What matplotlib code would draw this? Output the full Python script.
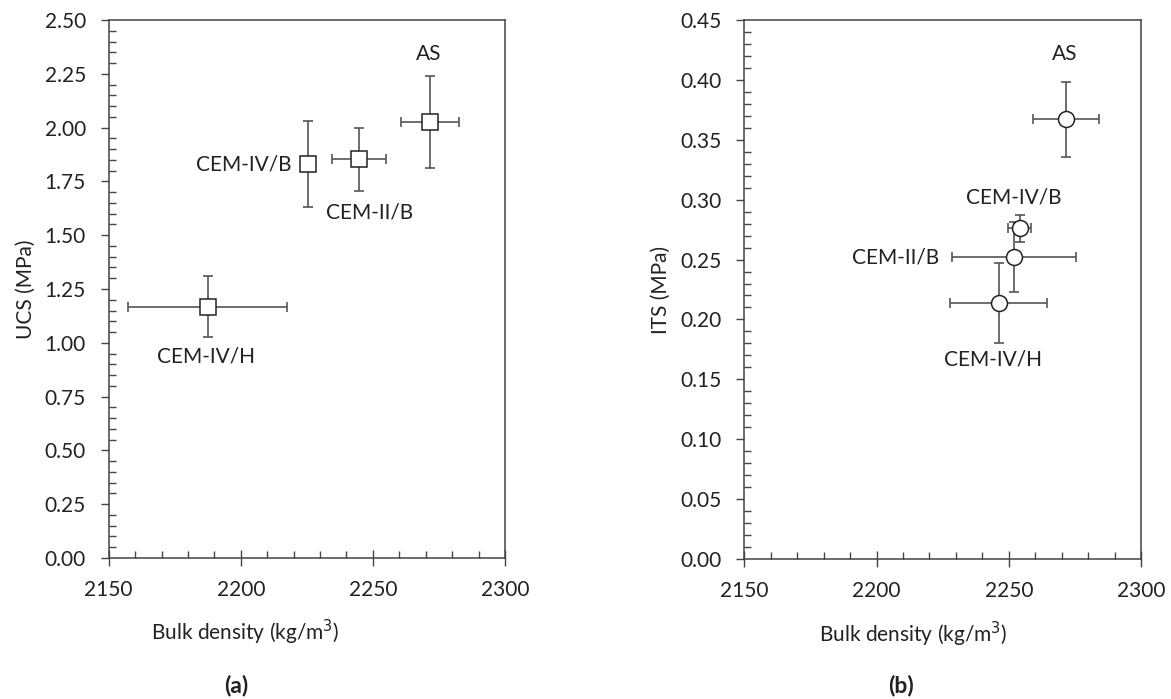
import matplotlib.pyplot as plt
from matplotlib.ticker import MultipleLocator

plt.rcParams['font.family'] = ['Lato', 'DejaVu Sans']

# --- data ---
labels = ["CEM-IV/H", "CEM-IV/B", "CEM-II/B", "AS"]

# (a) UCS
ucs_density = [2187.5, 2225.6, 2244.7, 2271.7]
ucs_density_err = [30.0, 0.0, 10.3, 11.0]
ucs = [1.167, 1.829, 1.853, 2.026]
ucs_err = [0.142, 0.200, 0.146, 0.214]

# (b) ITS
its_density = [2246.2, 2254.1, 2252.0, 2271.7]
its_density_err = [18.4, 4.4, 23.3, 12.5]
its = [0.214, 0.276, 0.252, 0.367]
its_err = [0.0334, 0.0115, 0.029, 0.031]

# label offsets in points (dx, dy, ha)
ucs_lab = [(-1, -36, "center"), (-12, 0, "right"), (8, -38, "center"), (-1, 49, "center")]
its_lab = [(-4, -41, "center"), (-4, 22, "center"), (-54, 0, "right"), (-1, 47, "center")]

txt = "#222222"
edge = "#444444"
fs = 15

fig = plt.figure(figsize=(11.71, 6.99), dpi=100)
ax1 = fig.add_axes([0.0928, 0.2017, 0.3384, 0.7697])
ax2 = fig.add_axes([0.6356, 0.2003, 0.3388, 0.7711])


def panel(ax, x, xe, y, ye, marker, ms, labs, ylim, ymaj, ymin, ylabel):
    for i in range(len(x)):
        ax.errorbar(x[i], y[i], xerr=xe[i] if xe[i] > 0 else None, yerr=ye[i],
                    fmt="none", ecolor="#555555", elinewidth=1.2,
                    capsize=3.8, capthick=1.2, zorder=2)
    ax.plot(x, y, linestyle="none", marker=marker, ms=ms, mfc="white",
            mec="#222222", mew=1.1, zorder=3)
    for i, lab in enumerate(labels):
        dx, dy, ha = labs[i]
        ax.annotate(lab, (x[i], y[i]), xytext=(dx, dy), textcoords="offset points",
                    ha=ha, va="center", fontsize=fs, color=txt)
    ax.set_xlim(2150, 2300)
    ax.set_ylim(*ylim)
    ax.xaxis.set_major_locator(MultipleLocator(50))
    ax.xaxis.set_minor_locator(MultipleLocator(10))
    ax.yaxis.set_major_locator(MultipleLocator(ymaj))
    ax.yaxis.set_minor_locator(MultipleLocator(ymin))
    ax.yaxis.set_major_formatter("{x:.2f}")
    ax.tick_params(axis="x", which="major", direction="inout", length=11, width=1,
                   color=edge, labelsize=fs, labelcolor=txt, pad=10)
    ax.tick_params(axis="y", which="major", direction="out", length=6, width=1,
                   color=edge, labelsize=fs, labelcolor=txt, pad=10.5)
    ax.tick_params(which="minor", direction="in", length=5, width=1, color=edge)
    for s in ax.spines.values():
        s.set_color(edge)
        s.set_linewidth(1.1)
    ax.set_ylabel(ylabel, fontsize=fs, color=txt)
    ax.set_xlabel("Bulk density (kg/m$^{3}$)", fontsize=fs, color=txt)


plt.rcParams['mathtext.fontset'] = 'custom'
plt.rcParams['mathtext.rm'] = 'Lato'
plt.rcParams['mathtext.default'] = 'rm'

panel(ax1, ucs_density, ucs_density_err, ucs, ucs_err, "s", 11, ucs_lab,
      (0, 2.5), 0.25, 0.05, "UCS (MPa)")
panel(ax2, its_density, its_density_err, its, its_err, "o", 11.5, its_lab,
      (0, 0.45), 0.05, 0.01, "ITS (MPa)")

ax1.xaxis.set_label_coords(0.344, -0.112)
ax2.xaxis.set_label_coords(0.425, -0.112)
ax1.yaxis.set_label_coords(-0.185, 0.5)
ax2.yaxis.set_label_coords(-0.185, 0.5)

fig.text(236 / 1171, 1 - 686 / 699, "(a)", ha="center", va="center",
         fontsize=16.5, fontweight="bold", color=txt)
fig.text(901 / 1171, 1 - 686 / 699, "(b)", ha="center", va="center",
         fontsize=16.5, fontweight="bold", color=txt)

fig.savefig("out.png", dpi=100)
